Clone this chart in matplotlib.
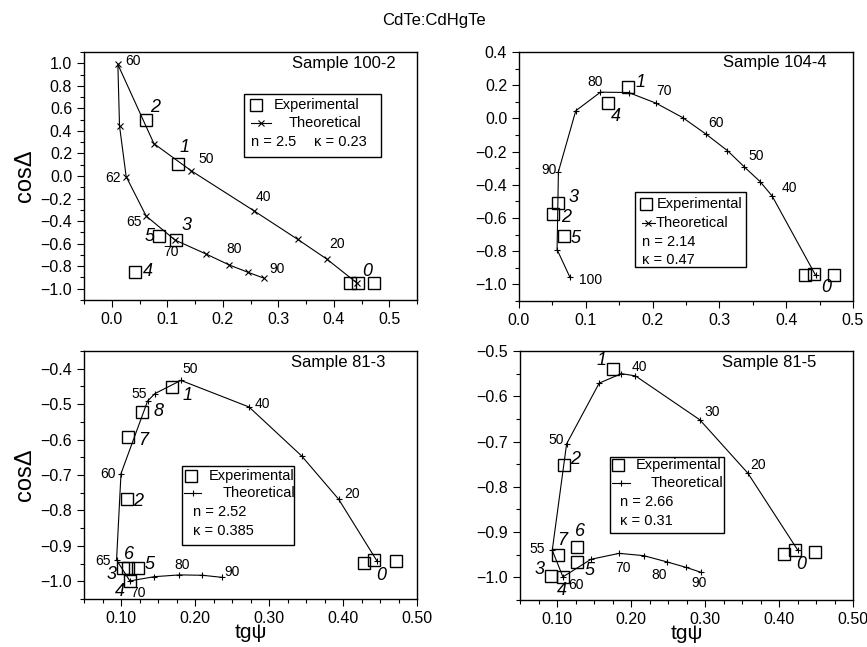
import matplotlib
matplotlib.use("Agg")
import matplotlib.pyplot as plt
from matplotlib.patches import Rectangle
from matplotlib.ticker import MultipleLocator, FuncFormatter

plt.rcParams['font.family'] = ['Liberation Sans', 'DejaVu Sans']

# ---- Sample 100-2 ----
s1_theo_x = [0.441, 0.388, 0.335, 0.256, 0.143, 0.076, 0.011, 0.014, 0.026, 0.062, 0.114, 0.170, 0.212, 0.246, 0.275]
s1_theo_y = [-0.946, -0.739, -0.562, -0.308, 0.047, 0.287, 0.99, 0.444, -0.006, -0.355, -0.568, -0.692, -0.790, -0.855, -0.908]
s1_ang_idx = [1, 3, 4, 6, 8, 9, 10, 12, 14]
s1_ang_lbl = ['20', '40', '50', '60', '62', '65', '70', '80', '90']
s1_exp_x = [0.429, 0.444, 0.472, 0.062, 0.119, 0.086, 0.116, 0.041]
s1_exp_y = [-0.946, -0.946, -0.946, 0.497, 0.106, -0.532, -0.568, -0.849]
s1_exp_lbl = ['', '0', '', '2', '1', '5', '3', '4']

# ---- Sample 104-4 ----
s2_theo_x = [0.444, 0.379, 0.361, 0.337, 0.312, 0.280, 0.245, 0.205, 0.164, 0.122, 0.085, 0.059, 0.057, 0.076]
s2_theo_y = [-0.945, -0.468, -0.381, -0.291, -0.194, -0.095, 0.005, 0.092, 0.156, 0.158, 0.046, -0.321, -0.790, -0.955]
s2_ang_idx = [1, 3, 5, 7, 9, 11, 13]
s2_ang_lbl = ['40', '50', '60', '70', '80', '90', '100']
s2_exp_x = [0.428, 0.442, 0.471, 0.163, 0.133, 0.059, 0.051, 0.067]
s2_exp_y = [-0.945, -0.939, -0.941, 0.187, 0.092, -0.512, -0.577, -0.708]
s2_exp_lbl = ['', '0', '', '1', '4', '3', '2', '5']

# ---- Sample 81-3 ----
s3_theo_x = [0.446, 0.394, 0.344, 0.273, 0.181, 0.146, 0.136, 0.100, 0.094, 0.112, 0.145, 0.179, 0.210, 0.237]
s3_theo_y = [-0.943, -0.768, -0.646, -0.508, -0.433, -0.470, -0.491, -0.696, -0.940, -0.999, -0.987, -0.982, -0.983, -0.989]
s3_ang_idx = [1, 3, 4, 6, 7, 8, 9, 11, 13]
s3_ang_lbl = ['20', '40', '50', '55', '60', '65', '70', '80', '90']
s3_exp_x = [0.428, 0.4415, 0.471, 0.1685, 0.128, 0.110, 0.108, 0.1025, 0.110, 0.123, 0.1115]
s3_exp_y = [-0.948, -0.940, -0.943, -0.453, -0.522, -0.592, -0.769, -0.962, -0.962, -0.962, -0.999]
s3_exp_lbl = ['', '0', '', '1', '8', '7', '2', '3', '6', '5', '4']

# ---- Sample 81-5 ----
s4_theo_x = [0.425, 0.358, 0.293, 0.206, 0.187, 0.157, 0.113, 0.0936, 0.108, 0.146, 0.184, 0.217, 0.249, 0.2745, 0.295]
s4_theo_y = [-0.939, -0.770, -0.652, -0.555, -0.550, -0.571, -0.705, -0.940, -0.999, -0.960, -0.947, -0.952, -0.966, -0.978, -0.989]
s4_ang_idx = [1, 2, 3, 6, 7, 8, 10, 12, 14]
s4_ang_lbl = ['20', '30', '40', '50', '55', '60', '70', '80', '90']
s4_exp_x = [0.407, 0.422, 0.449, 0.1757, 0.109, 0.1016, 0.1277, 0.1277, 0.0913, 0.108]
s4_exp_y = [-0.949, -0.940, -0.944, -0.539, -0.751, -0.950, -0.934, -0.967, -0.997, -0.999]
s4_exp_lbl = ['', '0', '', '1', '2', '7', '6', '5', '3', '4']

# label offsets in pixels (layout only)
s1_ang_off = [(10, 15), (10, 14), (15, 12), (15, 3), (-13, -1), (-12, -6), (-4, -12), (5, 16), (13, 9)]
s1_exp_off = [(0, 0), (9, 11), (0, 0), (9, 12), (7, 17), (-10, -1), (10, 15), (13, 0)]
s2_ang_off = [(17, 8), (12, 11), (10, 11), (8, 12), (-5, 10), (-9, 2), (21, -3)]
s2_exp_off = [(0, 0), (12, -13), (0, 0), (13, 5), (8, -13), (15, 6), (13, -3), (12, -3)]
s3_ang_off = [(14, 5), (13, 3), (9, 11), (-8, 7), (-13, 0), (-14, -1), (8, -12), (3, 10), (10, 5)]
s3_exp_off = [(0, 0), (8, -15), (0, 0), (16, -8), (17, 0), (15, -4), (11, -2), (-11, -7), (1, 13), (12, 3), (-10, -11)]
s4_ang_off = [(10, 8), (12, 8), (4, 9), (-10, 4), (-15, 1), (13, -8), (4, -15), (-8, -13), (-2, -11)]
s4_exp_off = [(0, 0), (6, -14), (0, 0), (-11, 8), (11, 5), (4, 14), (2, 16), (12, -8), (-11, 7), (-1, -14)]

panels = [
    dict(title='Sample 100-2', tx=s1_theo_x, ty=s1_theo_y, mk='x', ai=s1_ang_idx, al=s1_ang_lbl, ao=s1_ang_off,
         ex=s1_exp_x, ey=s1_exp_y, el=s1_exp_lbl, eo=s1_exp_off,
         box=(84, 52, 417, 300), xlim=(-0.05, 0.55), ylim=(-1.1, 1.1),
         xmaj=0.1, xmin=0.05, ymaj=0.2, ymin=0.1, xdec=1, title_pos=(0.935, 0.954),
         key=dict(mk='x', box=(0.481, 0.578, 0.892, 0.829), sq=(0.516, 0.786), sqt=0.571, ln=(0.503, 0.561, 0.712),
                  lnt=0.613, par=[('n = 2.5', 0.503, 0.638), ('\u03ba = 0.23', 0.69, 0.638)])),
    dict(title='Sample 104-4', tx=s2_theo_x, ty=s2_theo_y, mk='+', ai=s2_ang_idx, al=s2_ang_lbl, ao=s2_ang_off,
         ex=s2_exp_x, ey=s2_exp_y, el=s2_exp_lbl, eo=s2_exp_off,
         box=(519, 52, 853, 301), xlim=(0.0, 0.5), ylim=(-1.1, 0.4),
         xmaj=0.1, xmin=0.05, ymaj=0.2, ymin=0.1, xdec=1, title_pos=(0.920, 0.956),
         key=dict(mk='x', box=(0.348, 0.137, 0.679, 0.439), sq=(0.380, 0.389), sqt=0.413, ln=(0.367, 0.408, 0.314),
                  lnt=0.410, par=[('n = 2.14', 0.367, 0.238), ('\u03ba = 0.47', 0.367, 0.164)])),
    dict(title='Sample 81-3', tx=s3_theo_x, ty=s3_theo_y, mk='+', ai=s3_ang_idx, al=s3_ang_lbl, ao=s3_ang_off,
         ex=s3_exp_x, ey=s3_exp_y, el=s3_exp_lbl, eo=s3_exp_off,
         box=(84, 351, 417, 599), xlim=(0.05, 0.5), ylim=(-1.05, -0.35),
         xmaj=0.1, xmin=0.025, ymaj=0.1, ymin=0.05, xdec=2, title_pos=(0.905, 0.952),
         key=dict(mk='+', box=(0.294, 0.217, 0.631, 0.537), sq=(0.321, 0.497), sqt=0.376, ln=(0.301, 0.351, 0.426),
                  lnt=0.416, par=[('n = 2.52', 0.326, 0.349), ('\u03ba = 0.385', 0.326, 0.275)])),
    dict(title='Sample 81-5', tx=s4_theo_x, ty=s4_theo_y, mk='+', ai=s4_ang_idx, al=s4_ang_lbl, ao=s4_ang_off,
         ex=s4_exp_x, ey=s4_exp_y, el=s4_exp_lbl, eo=s4_exp_off,
         box=(520, 351, 853, 600), xlim=(0.05, 0.5), ylim=(-1.05, -0.5),
         xmaj=0.1, xmin=0.025, ymaj=0.1, ymin=0.05, xdec=2, title_pos=(0.890, 0.952),
         key=dict(mk='+', box=(0.269, 0.271, 0.614, 0.576), sq=(0.294, 0.544), sqt=0.349, ln=(0.277, 0.329, 0.468),
                  lnt=0.391, par=[('n = 2.66', 0.299, 0.392), ('\u03ba = 0.31', 0.299, 0.318)])),
]

W, H = 867, 647
fig = plt.figure(figsize=(W / 100, H / 100), dpi=100)
fig.text(0.5, 1 - 20 / H, 'CdTe:CdHgTe', ha='center', va='center', fontsize=12)

SQ = dict(marker='s', markersize=8, markerfacecolor='none', markeredgecolor='black', markeredgewidth=1.0, linestyle='none')


def fmt(dec):
    return FuncFormatter(lambda v, pos: ('%.*f' % (dec, v)).replace('-', '\u2212'))


def draw_key(ax, k):
    x0, y0, x1, y1 = k['box']
    ax.add_patch(Rectangle((x0, y0), x1 - x0, y1 - y0, transform=ax.transAxes, fill=False, lw=1.0,
                           edgecolor='black', zorder=5))
    ax.plot([k['sq'][0]], [k['sq'][1]], transform=ax.transAxes, zorder=6, **SQ)
    ax.text(k['sqt'], k['sq'][1], 'Experimental', transform=ax.transAxes, va='center', fontsize=10.5)
    lx0, lx1, ly = k['ln']
    ax.plot([lx0, lx1], [ly, ly], transform=ax.transAxes, color='black', lw=0.8, zorder=6)
    ax.plot([(lx0 + lx1) / 2], [ly], transform=ax.transAxes, color='black', marker=k['mk'], markersize=4,
            markeredgewidth=0.8, linestyle='none', zorder=6)
    ax.text(k['lnt'], ly, 'Theoretical', transform=ax.transAxes, va='center', fontsize=10.5)
    for s, px, py in k['par']:
        ax.text(px, py, s, transform=ax.transAxes, va='center', fontsize=10.5)


for i, p in enumerate(panels):
    l, t, r, b = p['box']
    ax = fig.add_axes([l / W, 1 - b / H, (r - l) / W, (b - t) / H])
    ax.plot(p['tx'], p['ty'], color='black', lw=0.8, marker=p['mk'], markersize=4.5, markeredgewidth=0.8)
    ax.plot(p['ex'], p['ey'], zorder=4, **SQ)
    for idx, lab, off in zip(p['ai'], p['al'], p['ao']):
        ax.annotate(lab, (p['tx'][idx], p['ty'][idx]), xytext=off, textcoords='offset pixels',
                    ha='center', va='center', fontsize=10)
    for x, y, lab, off in zip(p['ex'], p['ey'], p['el'], p['eo']):
        if lab:
            ax.annotate(lab, (x, y), xytext=off, textcoords='offset pixels',
                        ha='center', va='center', fontsize=13, style='italic')
    ax.text(*p['title_pos'], p['title'], transform=ax.transAxes, ha='right', va='center', fontsize=12)
    draw_key(ax, p['key'])

    ax.set_xlim(*p['xlim'])
    ax.set_ylim(*p['ylim'])
    ax.xaxis.set_major_locator(MultipleLocator(p['xmaj']))
    ax.xaxis.set_minor_locator(MultipleLocator(p['xmin']))
    ax.yaxis.set_major_locator(MultipleLocator(p['ymaj']))
    ax.yaxis.set_minor_locator(MultipleLocator(p['ymin']))
    ax.xaxis.set_major_formatter(fmt(p['xdec']))
    ax.yaxis.set_major_formatter(fmt(1))
    ax.tick_params(which='both', direction='out', top=False, right=False, labelsize=11.5, width=0.8)
    ax.tick_params(which='major', length=5)
    ax.tick_params(which='minor', length=3)
    for sp in ax.spines.values():
        sp.set_linewidth(1.0)
    if i in (0, 2):
        ax.set_ylabel('cos\u0394', fontsize=17, labelpad=3)
    if i in (2, 3):
        ax.set_xlabel('tg\u03c8', fontsize=15, labelpad=-2)

fig.savefig('out.png', dpi=100)
